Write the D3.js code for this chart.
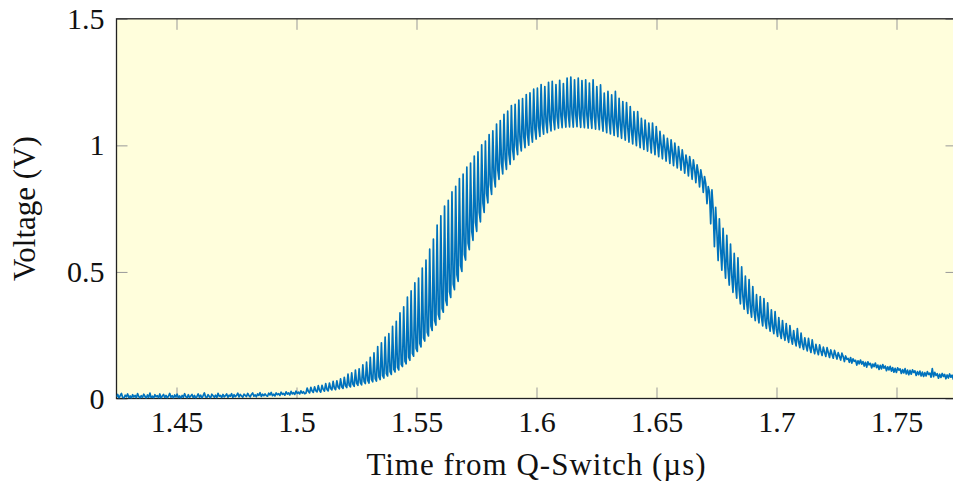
<!DOCTYPE html>
<html>
<head>
<meta charset="utf-8">
<script src="https://cdnjs.cloudflare.com/ajax/libs/d3/7.8.5/d3.min.js"></script>
<style>
body { margin: 0; background: #ffffff; }
#chart text { font-family: "Liberation Serif", "Times New Roman", serif; fill: #111; }
</style>
</head>
<body>
<div id="chart"></div>
<script>
// axis setup
var xDomain = [1.425, 1.775];
var yDomain = [0, 1.5];
var xTicks = [1.45, 1.5, 1.55, 1.6, 1.65, 1.7, 1.75];
var xTickLabels = ["1.45", "1.5", "1.55", "1.6", "1.65", "1.7", "1.75"];
var yTicks = [0, 0.5, 1, 1.5];
var yTickLabels = ["0", "0.5", "1", "1.5"];

// scope trace: first sample time and sample interval (µs), then the samples (V)
var sampleStart = 1.425;
var sampleStep = 0.0005158;
var volts = [
	// baseline before the pulse
	.006,.016,.002,.011,.020,.004,.001,.013,.007,.018,.003,.010,.000,.015,.006,
	.012,.002,.019,.008,.001,.011,.004,.017,.009,.000,.014,.005,.021,.003,.009,
	.001,.015,.007,.011,.003,.018,.000,.010,.016,.004,.012,.002,.009,.020,.005,
	.011,.001,.014,.006,.017,.003,.010,.000,.012,.005,.019,.008,.002,.015,.004,
	.010,.016,.003,.012,.001,.008,.018,.005,.013,.002,.011,.022,.006,.004,.015,
	.008,.002,.017,.011,.005,.013,.003,.020,.009,.012,.004,.016,.006,.011,.018,
	.005,.013,.009,.019,.004,.015,.007,.012,.021,.006,.016,.010,.005,.017,.012,
	.008,.020,.011,.006,.016,.022,.009,.014,.007,.018,.012,.023,.008,.017,.011,
	.018,.012,.009,.021,.014,.024,.011,.017,.010,.022,.015,.019,.012,.025,.016,
	.020,.013,.026,.017,.022,.014,.028,.018,.023,.016,.029,.020,.025,.018,.030,
	.021,.027,.019,
	// pulse with mode beating spikes
	.021,.041,.028, .022,.044,.030, .024,.046,.031, .026,.051,.032, .025,.052,.036,
	.029,.059,.036, .030,.061,.040, .034,.068,.041, .035,.070,.045, .038,.078,.046,
	.040,.084,.050, .043,.096,.052, .046,.101,.056, .048,.112,.060, .052,.117,.062,
	.054,.133,.067, .059,.144,.071, .061,.163,.075, .066,.180,.079, .069,.205,.085,
	.075,.220,.090, .081,.243,.098, .089,.256,.106, .095,.285,.115, .105,.305,.124,
	.113,.338,.135, .126,.362,.148, .137,.401,.163, .151,.425,.178, .167,.457,.198,
	.186,.476,.217, .204,.515,.239, .227,.547,.262, .247,.590,.286, .269,.630,.308,
	.290,.685,.333, .313,.722,.356, .341,.760,.388, .368,.783,.421, .399,.816,.452,
	.430,.838,.489, .463,.869,.524, .502,.886,.569, .547,.914,.614, .588,.930,.659,
	.625,.958,.696, .660,.974,.735, .698,1.002,.772, .735,1.017,.809, .773,1.043,.845,
	.806,1.057,.874, .836,1.084,.904, .866,1.098,.931, .887,1.123,.947, .905,1.135,.965,
	.925,1.157,.983, .944,1.162,1.001, .963,1.179,1.018, .978,1.185,1.033, .991,1.201,1.043,
	1.001,1.207,1.055, 1.013,1.222,1.064, 1.025,1.226,1.076, 1.035,1.240,1.085, 1.044,1.232,1.092,
	1.050,1.249,1.100, 1.057,1.253,1.105, 1.062,1.240,1.112, 1.068,1.257,1.116, 1.070,1.244,1.120,
	1.072,1.266,1.120, 1.073,1.270,1.123, 1.072,1.259,1.121, 1.074,1.266,1.122, 1.071,1.256,1.119,
	1.070,1.259,1.120, 1.068,1.246,1.116, 1.067,1.259,1.115, 1.064,1.232,1.114, 1.062,1.239,1.110,
	1.056,1.206,1.105, 1.050,1.213,1.097, 1.045,1.200,1.094, 1.039,1.213,1.086, 1.034,1.186,1.083,
	1.028,1.173,1.076, 1.021,1.169,1.070, 1.013,1.153,1.060, 1.006,1.133,1.054, .999,1.133,1.045,
	.991,1.107,1.039, .984,1.100,1.030, .977,1.088,1.025, .970,1.088,1.015, .963,1.074,1.009,
	.955,1.055,1.000, .947,1.041,.991, .938,1.028,.980, .929,1.022,.973, .920,1.009,.961,
	.911,.995,.954, .902,.982,.942, .890,.962,.931, .879,.956,.918, .866,.943,.906,
	.853,.923,.890, .836,.903,.873, .814,.877,.849, .770,.837,.816, .690,.824,.745,
	.600,.755,.656, .545,.710,.591, .507,.672,.551, .475,.645,.513, .448,.610,.485,
	.419,.573,.452, .396,.556,.429, .374,.520,.403, .353,.484,.382, .336,.470,.361,
	.321,.442,.347, .308,.410,.330, .299,.403,.321, .287,.395,.307, .277,.378,.297,
	.266,.350,.284, .256,.343,.275, .245,.320,.261, .237,.308,.254, .230,.296,.245,
	.222,.288,.239, .215,.268,.230, .208,.276,.223, .201,.258,.214, .194,.240,.209,
	.188,.238,.201, .182,.232,.197, .177,.214,.190, .173,.212,.188, .170,.203,.183,
	.166,.201,.181, .162,.192,.175, .159,.190,.173, .156,.181,.167, .152,.179,.166,
	// decaying tail
	.146,.168,.155, .158,.143,.162, .140,.157,.147, .151,.132,.149, .137,.152,.136,
	.146,.128,.143, .124,.145,.133, .139,.121,.136, .126,.140,.122, .132,.115,.131,
	.117,.134,.120, .128,.110,.125, .113,.127,.108, .122,.104,.119, .103,.121,.112,
	.117,.099,.114, .101,.118,.097, .112,.094,.111, .096,.113,.103, .109,.091,.106,
	.094,.108,.089, .104,.087,.102, .089,.106,.095, .100,.084,.118, .086,.103,.091,
	.098,.080,.096, .083,.099,.087, .095,.078,.093, .081,.097,.084, .092,.076,.090,
	.079,.094,.083
];

var width = 953;
var height = 481;

var xScale = d3.scaleLinear().domain(xDomain).range([116.5, 956.5]);
var yScale = d3.scaleLinear().domain(yDomain).range([398.5, 18.8]);

var svg = d3.select("#chart")
		.append("svg")
		.attr("width", width)
		.attr("height", height);

svg.append("defs").append("clipPath")
		.attr("id", "plotclip")
		.append("rect")
		.attr("x", xScale(xDomain[0]))
		.attr("y", yScale(yDomain[1]))
		.attr("width", xScale(xDomain[1]) - xScale(xDomain[0]))
		.attr("height", yScale(yDomain[0]) - yScale(yDomain[1]));

// background of the plot box
svg.append("rect")
		.attr("x", xScale(xDomain[0]))
		.attr("y", yScale(yDomain[1]))
		.attr("width", xScale(xDomain[1]) - xScale(xDomain[0]))
		.attr("height", yScale(yDomain[0]) - yScale(yDomain[1]))
		.attr("fill", "#fffedc");

var tickLen = 11;

function styleAxis(g) {
	g.select(".domain").remove();
	g.selectAll(".tick line").attr("stroke", "#999").attr("stroke-width", 1);
	g.selectAll(".tick text").attr("font-size", 30).attr("fill", "#111");
}

svg.append("g")
		.attr("transform", "translate(0," + yScale(yDomain[0]) + ")")
		.call(d3.axisBottom(xScale).tickValues(xTicks)
			.tickFormat(function(d, i) { return xTickLabels[i]; })
			.tickSizeInner(-tickLen).tickSizeOuter(0).tickPadding(12))
		.call(styleAxis);

svg.append("g")
		.attr("transform", "translate(0," + yScale(yDomain[1]) + ")")
		.call(d3.axisTop(xScale).tickValues(xTicks).tickFormat("")
			.tickSizeInner(-tickLen).tickSizeOuter(0))
		.call(styleAxis);

svg.append("g")
		.attr("transform", "translate(" + xScale(xDomain[0]) + ",0)")
		.call(d3.axisLeft(yScale).tickValues(yTicks)
			.tickFormat(function(d, i) { return yTickLabels[i]; })
			.tickSizeInner(-tickLen).tickSizeOuter(0).tickPadding(12))
		.call(styleAxis);

svg.append("g")
		.attr("transform", "translate(" + xScale(xDomain[1]) + ",0)")
		.call(d3.axisRight(yScale).tickValues(yTicks).tickFormat("")
			.tickSizeInner(-tickLen).tickSizeOuter(0))
		.call(styleAxis);

svg.selectAll(".tick text").attr("font-family", null);

// frame
svg.append("rect")
		.attr("x", xScale(xDomain[0]))
		.attr("y", yScale(yDomain[1]))
		.attr("width", xScale(xDomain[1]) - xScale(xDomain[0]))
		.attr("height", yScale(yDomain[0]) - yScale(yDomain[1]))
		.attr("fill", "none")
		.attr("stroke", "#222")
		.attr("stroke-width", 1.3);

var line = d3.line()
		.x(function(d, i) { return xScale(sampleStart + i * sampleStep); })
		.y(function(d) { return yScale(d); });

svg.append("path")
		.datum(volts)
		.attr("clip-path", "url(#plotclip)")
		.attr("d", line)
		.attr("fill", "none")
		.attr("stroke", "#0072bd")
		.attr("stroke-width", 1.7)
		.attr("stroke-linejoin", "round");

// axis titles
svg.append("text")
		.attr("x", (xScale(xDomain[0]) + xScale(xDomain[1])) / 2)
		.attr("y", 475)
		.attr("text-anchor", "middle")
		.attr("font-size", 31)
		.attr("letter-spacing", 1)
		.text("Time from Q-Switch (\u00b5s)");

svg.append("text")
		.attr("transform", "translate(35," + (yScale(yDomain[0]) + yScale(yDomain[1])) / 2 + ") rotate(-90)")
		.attr("text-anchor", "middle")
		.attr("font-size", 31)
		.text("Voltage (V)");
</script>
</body>
</html>
